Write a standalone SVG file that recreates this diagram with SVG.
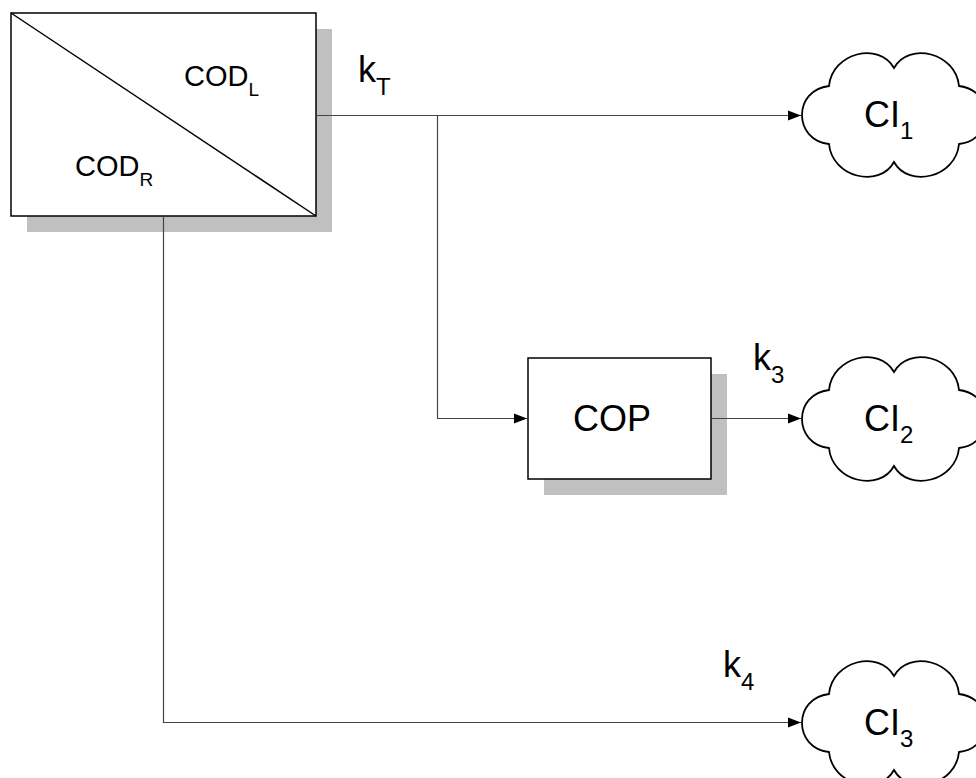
<svg xmlns="http://www.w3.org/2000/svg" width="976" height="778" viewBox="0 0 976 778">
<defs>
<style>
.shadow{fill:#c0c0c0;stroke:none}
.box{fill:#fff;stroke:#000;stroke-width:1.5}
.cloud{fill:#fff;stroke:#000;stroke-width:1.8}
.conn{fill:none;stroke:#444;stroke-width:1.2}
text{font-family:"Liberation Sans",Arial,sans-serif;fill:#000}
.lbl{font-size:36px}
.sub{font-size:24px}
.cod{font-size:29px}
.csub{font-size:19px}
</style>
<marker id="arr" markerUnits="userSpaceOnUse" markerWidth="14" markerHeight="12" viewBox="0 0 14 12" refX="13" refY="6" orient="auto">
<path d="M0,1 L13,6 L0,11 Z" fill="#000"/>
</marker>
<path id="cloudShape" d="M-65,-29 C-62,-62 -15,-74 0,-47 C15,-74 62,-62 65,-29 C101,-25 101,25 65,29 C62,62 15,74 0,47 C-15,74 -62,62 -65,29 C-101,25 -101,-25 -65,-29 Z"/>
</defs>

<g id="COD">
<rect class="shadow" x="27" y="29" width="305" height="203"/>
<rect class="box" x="11" y="13" width="305" height="203"/>
<line x1="11" y1="13" x2="316" y2="216" stroke="#000" stroke-width="1.5"/>
<text class="cod" x="184" y="86">COD<tspan class="csub" dy="10">L</tspan></text>
<text class="cod" x="75" y="176">COD<tspan class="csub" dy="10">R</tspan></text>
</g>

<g id="COP">
<rect class="shadow" x="544" y="374" width="183" height="121"/>
<rect class="box" x="528" y="358" width="183" height="121"/>
<text class="lbl" x="573" y="431">COP</text>
</g>

<g id="CI1">
<use href="#cloudShape" class="cloud" transform="translate(894,115)"/>
<text class="lbl" x="864" y="127">CI<tspan class="sub" dy="12">1</tspan></text>
</g>

<g id="CI2">
<use href="#cloudShape" class="cloud" transform="translate(894,419)"/>
<text class="lbl" x="864" y="431">CI<tspan class="sub" dy="12">2</tspan></text>
</g>

<g id="CI3">
<use href="#cloudShape" class="cloud" transform="translate(894,723)"/>
<text class="lbl" x="864" y="735">CI<tspan class="sub" dy="12">3</tspan></text>
</g>

<g id="connectors">
<polyline class="conn" points="316.8,115.5 801,115.5" marker-end="url(#arr)"/>
<polyline class="conn" points="437.5,115.5 437.5,418.5 527,418.5" marker-end="url(#arr)"/>
<polyline class="conn" points="711.8,418.5 801,418.5" marker-end="url(#arr)"/>
<polyline class="conn" points="163.5,216.8 163.5,722.5 801,722.5" marker-end="url(#arr)"/>
</g>

<g id="labels">
<text class="lbl" x="358" y="82">k<tspan class="sub" dy="13">T</tspan></text>
<text class="lbl" x="753" y="370">k<tspan class="sub" dy="13">3</tspan></text>
<text class="lbl" x="723" y="677">k<tspan class="sub" dy="13">4</tspan></text>
</g>
</svg>
